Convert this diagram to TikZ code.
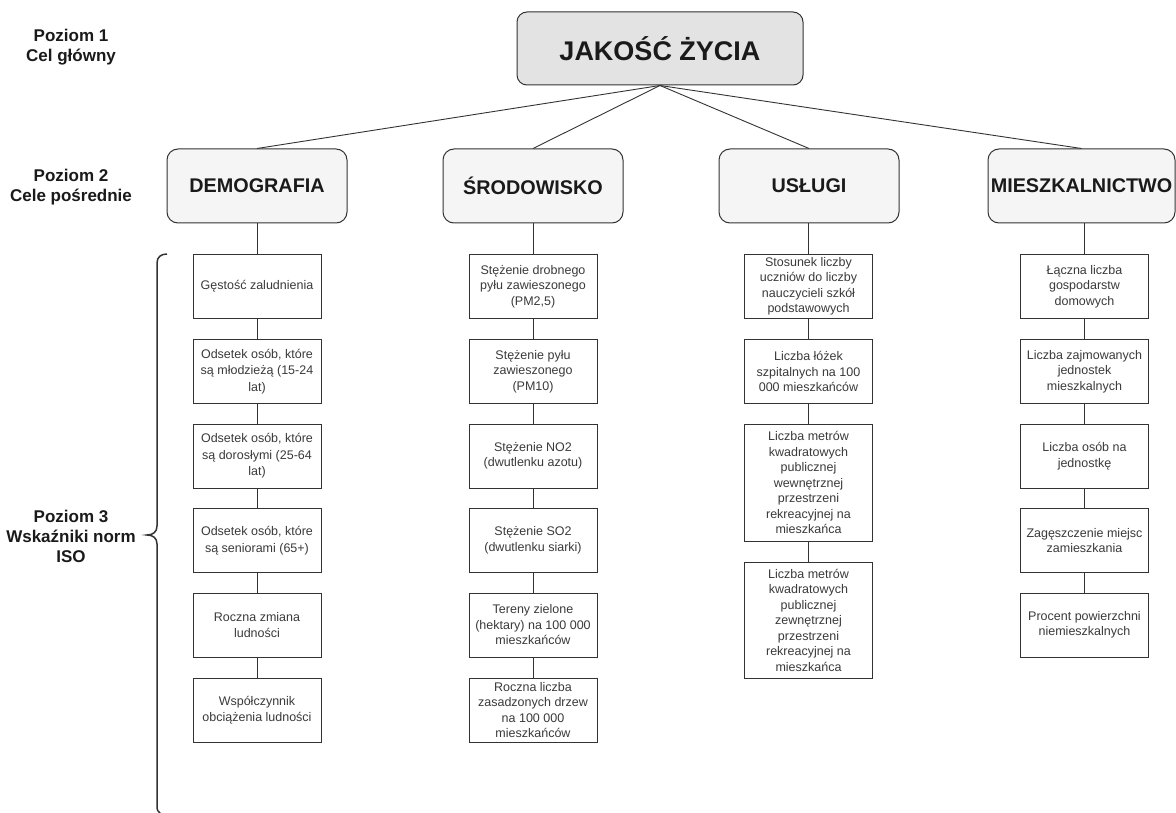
\documentclass[tikz,border=0pt]{standalone}
\usepackage{fontspec}
\setmainfont{Liberation Sans}
\definecolor{lc}{HTML}{333333}
\definecolor{txt}{HTML}{1A1A1A}
\definecolor{txtthree}{HTML}{3A3A3A}
\definecolor{titlefill}{HTML}{E3E3E3}
\definecolor{ltwofill}{HTML}{F5F5F5}
\begin{document}
\begin{tikzpicture}[x=1pt,y=-1pt,
  lone/.style={draw=lc, line width=1pt, fill=titlefill, rounded corners=10pt, minimum width=286pt, minimum height=73pt, inner sep=1pt, font=\fontsize{27}{31}\selectfont\bfseries, text=txt},
  ltwo/.style={draw=lc, line width=1pt, fill=ltwofill, rounded corners=11pt, minimum width=180pt, minimum height=74pt, inner sep=1pt, font=\fontsize{19.8}{23}\selectfont\bfseries, text=txt},
  lthree/.style={draw=lc, line width=0.9pt, minimum width=128pt, minimum height=64pt, inner sep=2pt, align=center, font=\fontsize{12.5}{15.5}\selectfont, text=txtthree},
  lab/.style={align=center, font=\fontsize{17}{20}\selectfont\bfseries, text=txt},
  conn/.style={draw=lc, line width=0.9pt}
]
\fill[white] (0,0) rectangle (1176,813);
\useasboundingbox (0,0) rectangle (1176,813);

% left labels
\node[lab] (p1) at (71,47) {Poziom 1\\Cel główny};
\node[lab] (p2) at (71,187) {Poziom 2\\Cele pośrednie};
\node[lab] (p3) at (71,536) {Poziom 3\\Wskaźniki norm\\ISO};

% brace
\draw[lc, line width=1.5pt] (167,254) .. controls (161,254) and (157,257) .. (157,263) -- (157,526)
  .. controls (157,532) and (153,535) .. (147,535)
  .. controls (153,535) and (157,538) .. (157,544) -- (157,806)
  .. controls (157,810) and (158,812) .. (160,813);

% level 1
\node[lone] (top) at (660,48.5) {JAKOŚĆ ŻYCIA};

% level 2
\node[ltwo] (D) at (257,186) {DEMOGRAFIA};
\node[ltwo] (S) at (533,186) {ŚRODOWISKO};
\node[ltwo] (U) at (809,186) {USŁUGI};
\node[ltwo, minimum width=187pt] (M) at (1081.5,186) {MIESZKALNICTWO};

\foreach \n in {D,S,U,M}{\draw[conn] (top.south) -- (\n.north);}

% Demografia column
\begin{scope}[lthree/.append style={font=\fontsize{12.5}{16.5}\selectfont}]
\node[lthree] (d1) at (257,286.5) {Gęstość zaludnienia};
\node[lthree] (d2) at (257,371.5) {Odsetek osób, które\\są młodzieżą (15-24\\lat)};
\node[lthree] (d3) at (257,456) {Odsetek osób, które\\są dorosłymi (25-64\\lat)};
\node[lthree] (d4) at (257,540.5) {Odsetek osób, które\\są seniorami (65+)};
\node[lthree] (d5) at (257,625) {Roczna zmiana\\ludności};
\node[lthree] (d6) at (257,710) {Współczynnik\\obciążenia ludności};
\end{scope}

% Srodowisko column
\node[lthree] (s1) at (533,286.5) {Stężenie drobnego\\pyłu zawieszonego\\(PM2,5)};
\node[lthree] (s2) at (533,371.5) {Stężenie pyłu\\zawieszonego\\(PM10)};
\node[lthree] (s3) at (533,456) {Stężenie NO2\\(dwutlenku azotu)};
\node[lthree] (s4) at (533,540.5) {Stężenie SO2\\(dwutlenku siarki)};
\node[lthree] (s5) at (533,625) {Tereny zielone\\(hektary) na 100 000\\mieszkańców};
\node[lthree] (s6) at (533,710) {Roczna liczba\\zasadzonych drzew\\na 100 000\\mieszkańców};

% Uslugi column
\node[lthree] (u1) at (808.5,286.5) {Stosunek liczby\\uczniów do liczby\\nauczycieli szkół\\podstawowych};
\node[lthree] (u2) at (808.5,371.5) {Liczba łóżek\\szpitalnych na 100\\000 mieszkańców};
\node[lthree, minimum height=117pt] (u3) at (808.5,482.5) {Liczba metrów\\kwadratowych\\publicznej\\wewnętrznej\\przestrzeni\\rekreacyjnej na\\mieszkańca};
\node[lthree, minimum height=116pt] (u4) at (808.5,620) {Liczba metrów\\kwadratowych\\publicznej\\zewnętrznej\\przestrzeni\\rekreacyjnej na\\mieszkańca};

% Mieszkalnictwo column
\node[lthree] (m1) at (1084.5,286.5) {Łączna liczba\\gospodarstw\\domowych};
\node[lthree] (m2) at (1084.5,371.5) {Liczba zajmowanych\\jednostek\\mieszkalnych};
\node[lthree] (m3) at (1084.5,456) {Liczba osób na\\jednostkę};
\node[lthree] (m4) at (1084.5,540.5) {Zagęszczenie miejsc\\zamieszkania};
\node[lthree] (m5) at (1084.5,625) {Procent powierzchni\\niemieszkalnych};

% vertical connectors
\draw[conn] (d1.north) -- (d1.north |- D.south);
\draw[conn] (s1.north) -- (s1.north |- S.south);
\draw[conn] (u1.north) -- (u1.north |- U.south);
\draw[conn] (m1.north) -- (m1.north |- M.south);
\draw[conn] (d1) -- (d2); \draw[conn] (d2) -- (d3); \draw[conn] (d3) -- (d4); \draw[conn] (d4) -- (d5); \draw[conn] (d5) -- (d6);
\draw[conn] (s1) -- (s2); \draw[conn] (s2) -- (s3); \draw[conn] (s3) -- (s4); \draw[conn] (s4) -- (s5); \draw[conn] (s5) -- (s6);
\draw[conn] (u1) -- (u2); \draw[conn] (u2) -- (u3); \draw[conn] (u3) -- (u4);
\draw[conn] (m1) -- (m2); \draw[conn] (m2) -- (m3); \draw[conn] (m3) -- (m4); \draw[conn] (m4) -- (m5);
\end{tikzpicture}
\end{document}
